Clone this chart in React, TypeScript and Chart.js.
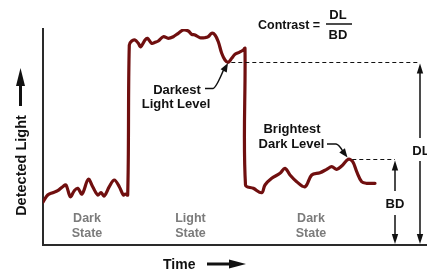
import React, { useEffect, useRef } from "react";
import { Chart, registerables } from "chart.js";

Chart.register(...registerables);

// Time (arbitrary units) and detected light (arbitrary units)
const timeValues = [
  0, 4.7, 9.7, 14.7, 19.7, 23, 27.3, 31.3, 34.7, 39, 45.3, 49.7, 54.7, 58, 61.3, 66.3, 71.3, 76.3, 80.3, 82.3, 84.7,
  86.3, 88.7, 92, 95.3, 97.7, 102, 104.3, 108.7, 112, 115.3, 120.3, 125.3, 130.3, 135.3, 140.3, 145.3, 148.7, 152,
  157, 162, 165.3, 168.7, 172, 175.3, 178.7, 182, 185.3, 188.7, 192, 196.3, 200.3, 202,
  202.5, 210.3, 218.7, 222, 228.7, 237, 242, 247, 253.7, 262, 268.7, 277, 283.7, 288.7, 293.7, 298.7, 305.3, 309.7,
  313.7, 318.7, 323.7, 332,
];
const lightValues = [
  43, 50, 52.3, 54.3, 58.3, 60, 48.3, 54.3, 56.7, 51, 65.7, 58.3, 50, 52.3, 49, 58.3, 65, 58.3, 50, 51, 50,
  200, 204, 205, 201.7, 198.3, 205, 206.7, 201.7, 202.7, 204, 208.3, 206.7, 208.3, 211.7, 215, 214, 210.7, 210,
  207.3, 207.3, 208.3, 211.7, 210, 203.3, 191.7, 185, 182.7, 186.7, 190.7, 192.7, 195, 196.7,
  60, 56.7, 52.3, 60, 66.7, 71.7, 76.7, 70, 63.3, 58.3, 70, 72.3, 75.7, 78.3, 75.7, 79, 85.7, 83.3,
  73.3, 63.3, 61.7, 61.7,
];

const darkestLightLevel = 182.5;
const darkestLightTime = 185.3;
const brightestDarkLevel = 85.5;
const brightestDarkTime = 305.3;

const stateLabels = [
  ["Dark", "State"],
  ["Light", "State"],
  ["Dark", "State"],
];
const stateCenters = [44, 147.5, 268];

const bdArrowTime = 352;
const dlArrowTime = 377;

const timeMax = 384;
const lightMax = 216;

const FONT = '"Liberation Sans", Arial, Helvetica, sans-serif';

function arrowHead(ctx: CanvasRenderingContext2D, tx: number, ty: number, dx: number, dy: number, len: number, hw: number) {
  const m = Math.hypot(dx, dy);
  const ux = dx / m;
  const uy = dy / m;
  const bx = tx - ux * len;
  const by = ty - uy * len;
  ctx.beginPath();
  ctx.moveTo(tx, ty);
  ctx.lineTo(bx - uy * hw, by + ux * hw);
  ctx.lineTo(bx + uy * hw, by - ux * hw);
  ctx.closePath();
  ctx.fill();
}

const annotationPlugin = {
  id: "annotations",
  afterDraw(chart: any) {
    const ctx: CanvasRenderingContext2D = chart.ctx;
    const xs = chart.scales.x;
    const ys = chart.scales.y;
    ctx.save();
    ctx.fillStyle = "#111";
    ctx.strokeStyle = "#111";

    // Dashed reference lines
    const dlY = ys.getPixelForValue(darkestLightLevel);
    const bdY = ys.getPixelForValue(brightestDarkLevel);
    const dlX = xs.getPixelForValue(dlArrowTime);
    const bdX = xs.getPixelForValue(bdArrowTime);
    const baseY = ys.getPixelForValue(0);
    ctx.lineWidth = 1.2;
    ctx.setLineDash([4, 3]);
    ctx.beginPath();
    ctx.moveTo(xs.getPixelForValue(darkestLightTime) + 3, dlY);
    ctx.lineTo(dlX, dlY);
    ctx.moveTo(xs.getPixelForValue(brightestDarkTime) + 4, bdY);
    ctx.lineTo(bdX, bdY);
    ctx.stroke();
    ctx.setLineDash([]);

    // DL / BD arrows
    ctx.lineWidth = 1.5;
    ctx.beginPath();
    ctx.moveTo(dlX, dlY + 6);
    ctx.lineTo(dlX, 138);
    ctx.moveTo(dlX, 161);
    ctx.lineTo(dlX, baseY - 6);
    ctx.moveTo(bdX, bdY + 6);
    ctx.lineTo(bdX, 191);
    ctx.moveTo(bdX, 215);
    ctx.lineTo(bdX, baseY - 6);
    ctx.stroke();
    arrowHead(ctx, dlX, dlY + 1, 0, -1, 10, 3.2);
    arrowHead(ctx, dlX, baseY - 1, 0, 1, 10, 3.2);
    arrowHead(ctx, bdX, bdY + 1, 0, -1, 10, 3.2);
    arrowHead(ctx, bdX, baseY - 1, 0, 1, 10, 3.2);

    ctx.textAlign = "center";
    ctx.textBaseline = "alphabetic";
    ctx.font = `bold 13px ${FONT}`;
    ctx.fillText("DL", dlX + 1, 155);
    ctx.fillText("BD", bdX, 208);

    // Contrast formula
    ctx.font = `bold 12.5px ${FONT}`;
    ctx.textAlign = "left";
    ctx.fillText("Contrast =", 258, 28.5);
    ctx.font = `bold 13px ${FONT}`;
    ctx.textAlign = "center";
    ctx.fillText("DL", 338, 18.5);
    ctx.fillText("BD", 338, 39);
    ctx.lineWidth = 1.5;
    ctx.beginPath();
    ctx.moveTo(326, 24);
    ctx.lineTo(352, 24);
    ctx.stroke();

    // Darkest Light Level label + leader
    ctx.fillText("Darkest", 177, 93.5);
    ctx.fillText("Light Level", 176, 108);
    ctx.lineWidth = 1.5;
    ctx.beginPath();
    ctx.moveTo(205, 88.5);
    ctx.lineTo(213, 88.5);
    ctx.quadraticCurveTo(216, 88, 223.5, 70);
    ctx.stroke();
    arrowHead(ctx, 228, 63, 0.55, -1, 9, 3.5);

    // Brightest Dark Level label + leader
    ctx.fillText("Brightest", 292, 133);
    ctx.fillText("Dark Level", 291.5, 148);
    ctx.beginPath();
    ctx.moveTo(327, 144);
    ctx.lineTo(336, 144);
    ctx.quadraticCurveTo(339, 144.5, 343, 151.5);
    ctx.stroke();
    arrowHead(ctx, 347.5, 157.5, 0.75, 1, 9, 3.5);

    // State labels
    ctx.fillStyle = "#7b7b7b";
    ctx.font = `bold 12.5px ${FONT}`;
    stateLabels.forEach((lines, i) => {
      const cx = xs.getPixelForValue(stateCenters[i]);
      ctx.fillText(lines[0], cx, 222);
      ctx.fillText(lines[1], cx, 237);
    });

    // Axis titles with arrows
    ctx.fillStyle = "#111";
    ctx.font = `bold 14px ${FONT}`;
    ctx.textAlign = "left";
    ctx.fillText("Time", 163, 268.5);
    ctx.lineWidth = 3;
    ctx.beginPath();
    ctx.moveTo(207, 264);
    ctx.lineTo(232, 264);
    ctx.stroke();
    arrowHead(ctx, 246, 264, 1, 0, 17, 4.5);

    ctx.save();
    ctx.translate(26, 165.5);
    ctx.rotate(-Math.PI / 2);
    ctx.textAlign = "center";
    ctx.font = `bold 14.5px ${FONT}`;
    ctx.fillText("Detected Light", 0, 0);
    ctx.restore();
    ctx.beginPath();
    ctx.moveTo(20.5, 106);
    ctx.lineTo(20.5, 84);
    ctx.stroke();
    arrowHead(ctx, 20.5, 68, 0, -1, 18, 4.5);

    ctx.restore();
  },
};

export default function App() {
  const canvasRef = useRef<HTMLCanvasElement | null>(null);

  useEffect(() => {
    if (!canvasRef.current) return;
    const chart = new Chart(canvasRef.current, {
      type: "line",
      data: {
        datasets: [
          {
            data: timeValues.map((t, i) => ({ x: t, y: lightValues[i] })),
            borderColor: "#700f0f",
            borderWidth: 3.2,
            pointRadius: 0,
            tension: 0.35,
            borderJoinStyle: "round",
            borderCapStyle: "round",
            fill: false,
          },
        ],
      },
      options: {
        responsive: false,
        animation: false,
        events: [],
        layout: { padding: { left: 43, top: 29, right: 0, bottom: 26 } },
        plugins: { legend: { display: false }, tooltip: { enabled: false } },
        scales: {
          x: {
            type: "linear",
            min: 0,
            max: timeMax,
            ticks: { display: false },
            grid: { display: false, drawTicks: false },
            border: { display: true, color: "#2a2a2a", width: 2 },
            afterFit: (s: any) => {
              s.height = 0;
            },
          },
          y: {
            type: "linear",
            min: 0,
            max: lightMax,
            ticks: { display: false },
            grid: { display: false, drawTicks: false },
            border: { display: true, color: "#2a2a2a", width: 2 },
            afterFit: (s: any) => {
              s.width = 0;
            },
          },
        },
      },
      plugins: [annotationPlugin],
    } as any);
    return () => chart.destroy();
  }, []);

  return (
    <div style={{ position: "absolute", left: 0, top: 0, width: 427, height: 271, background: "#fff" }}>
      <canvas ref={canvasRef} width={427} height={271} style={{ display: "block" }} />
    </div>
  );
}
